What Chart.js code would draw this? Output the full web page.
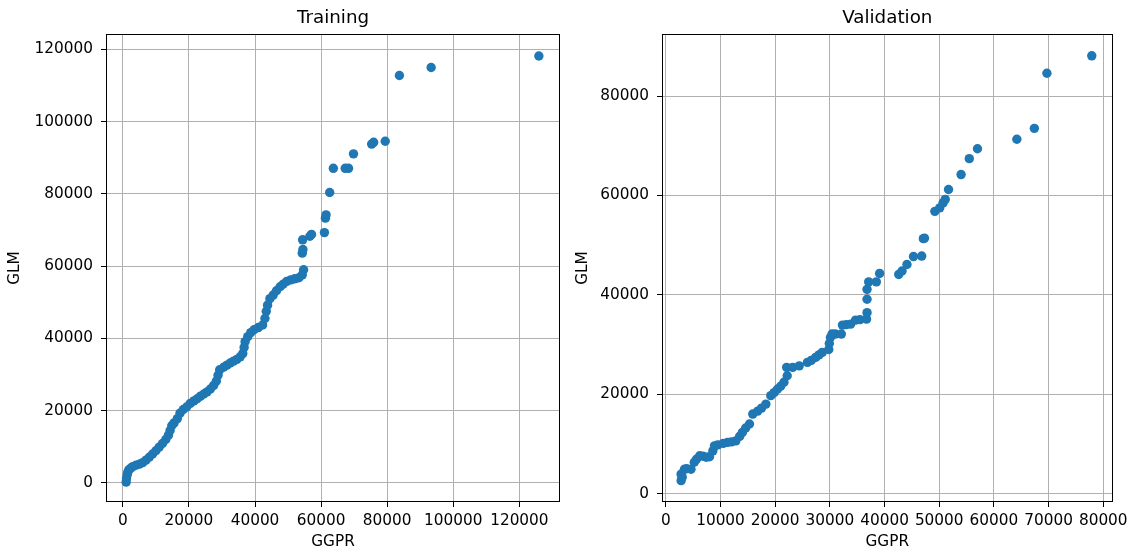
<!DOCTYPE html>
<html>
<head>
<meta charset="utf-8">
<script src="https://cdn.jsdelivr.net/npm/chart.js@4"></script>
<style>
    body { margin: 0; background: #fff; }
    .panel { position: absolute; top: 0; height: 552px; }
</style>
</head>
<body>
<div class="panel" style="left:0;width:566px"><canvas id="training"></canvas></div>
<div class="panel" style="left:566px;width:567px"><canvas id="validation"></canvas></div>
<script>
// Training quantiles
const trainGGPR = [
    1000, 1100, 1300, 1500, 1800, 2300, 3000, 4000, 5000, 6000,
    7000, 8000, 9000, 10000, 11000, 12000, 13000, 13800, 14300, 14800,
    15500, 16500, 17300, 18300, 19300, 20400, 21500, 22500, 23500, 24500,
    25500, 26500, 27500, 28300, 28800, 29300, 30500, 31500, 32500, 33500,
    34500, 35500, 36300, 36700, 37000, 37800, 38700, 39700, 41000, 42300,
    43000, 43400, 43800, 44500, 45500, 46500, 47600, 48500, 49600, 50800,
    52000, 53300, 54300, 54700, 54300, 54500, 54400, 56600, 57100, 61000,
    61300, 61500, 62600, 63700, 67300, 68300, 69800, 75300, 75900, 79400,
    83700, 93300, 125900
];
const trainGLM = [
    200, 1200, 2200, 3000, 3600, 4000, 4500, 4900, 5200, 5600,
    6300, 7100, 8000, 8900, 9900, 10900, 12000, 13200, 14500, 15800,
    16600, 17800, 19300, 20300, 21000, 22000, 22700, 23300, 24000, 24600,
    25200, 26000, 27000, 28200, 29800, 31300, 32000, 32600, 33200, 33700,
    34200, 34900, 35800, 37500, 39100, 40500, 41600, 42400, 43000, 43700,
    45500, 47500, 49200, 51000, 52000, 53200, 54300, 55000, 55800, 56200,
    56500, 56800, 57600, 59000, 63600, 64600, 67300, 68300, 68800, 69300,
    73300, 74200, 80400, 87100, 87100, 87100, 91100, 93800, 94300, 94600,
    112800, 115000, 118200
];

// Validation quantiles
const valGGPR = [
    2800, 2800, 3000, 3400, 3800, 4600, 5200, 5600, 6200, 6800,
    7400, 8000, 8600, 8900, 9500, 10500, 11300, 12000, 12800, 13500,
    14000, 14600, 15300, 15900, 16800, 17500, 18300, 19200, 19800, 20400,
    21000, 21600, 22200, 22100, 23200, 24400, 25900, 26600, 27400, 28000,
    28600, 29800, 29900, 30100, 30400, 31000, 32100, 32300, 33000, 33800,
    34700, 35500, 36700, 36800, 36800, 36800, 37100, 38500, 39100, 42600,
    43200, 44100, 45300, 46800, 47100, 47300, 49200, 50100, 50700, 51100,
    51700, 54000, 55500, 57000, 64200, 67400, 69700, 77900
];
const valGLM = [
    2600, 3900, 3300, 4900, 5000, 4900, 6300, 6900, 7600, 7500,
    7300, 7400, 8600, 9600, 9800, 10100, 10300, 10400, 10600, 11500,
    12300, 13200, 14000, 16000, 16600, 17200, 18000, 19700, 20300, 21000,
    21600, 22400, 23700, 25400, 25400, 25700, 26400, 26800, 27400, 27900,
    28400, 29000, 30200, 31400, 32100, 32100, 32100, 33900, 34000, 34100,
    34900, 35000, 35100, 36400, 39100, 41100, 42600, 42600, 44300, 44100,
    44800, 46100, 47700, 47800, 51300, 51400, 56800, 57500, 58500, 59200,
    61200, 64200, 67400, 69400, 71300, 73500, 84600, 88100
];

// Tick labels
const trainXTicks = [0, 20000, 40000, 60000, 80000, 100000, 120000];
const trainYTicks = [0, 20000, 40000, 60000, 80000, 100000, 120000];
const valXTicks = [0, 10000, 20000, 30000, 40000, 50000, 60000, 70000, 80000];
const valYTicks = [0, 20000, 40000, 60000, 80000];

const FONT = "'DejaVu Sans', sans-serif";
Chart.defaults.font.family = FONT;
Chart.defaults.color = '#000';

// full box around the plot, like matplotlib spines
const frame = {
    id: 'frame',
    afterDraw(chart) {
        const { ctx, chartArea: a } = chart;
        ctx.save();
        ctx.strokeStyle = '#000';
        ctx.lineWidth = 1;
        const l = Math.round(a.left) + 0.5, t = Math.round(a.top) + 0.5;
        const r = Math.round(a.right) - 0.5, b = Math.round(a.bottom) - 0.5;
        ctx.strokeRect(l, t, r - l, b - t);
        ctx.restore();
    }
};

const axisFont = { family: FONT, size: 15.3, lineHeight: 1.2 };

const makeChart = (id, cfg) => {
    const points = cfg.xs.map((x, i) => ({ x, y: cfg.ys[i] }));
    return new Chart(document.getElementById(id), {
        type: 'scatter',
        data: {
            datasets: [{
                data: points,
                backgroundColor: '#1f77b4',
                borderWidth: 0,
                pointRadius: 4.7,
                pointHoverRadius: 4.7
            }]
        },
        options: {
            responsive: true,
            maintainAspectRatio: false,
            animation: false,
            layout: { padding: { left: 0, right: cfg.padRight, top: 0, bottom: 0 } },
            plugins: {
                legend: { display: false },
                tooltip: { enabled: false },
                title: {
                    display: true,
                    text: cfg.title,
                    fullSize: false,
                    color: '#000',
                    font: { family: FONT, size: 18.3, weight: 'normal', lineHeight: 1.2 },
                    padding: { top: 7, bottom: 5 }
                }
            },
            scales: {
                x: {
                    type: 'linear',
                    min: cfg.xMin,
                    max: cfg.xMax,
                    z: 1,
                    afterBuildTicks: s => { s.ticks = cfg.xTicks.map(v => ({ value: v })); },
                    afterFit: s => { s.height = 50; },
                    border: { display: false },
                    grid: { color: '#b0b0b0', lineWidth: 1, tickColor: '#000', tickLength: 5 },
                    ticks: {
                        font: axisFont, color: '#000', padding: 5,
                        autoSkip: false, maxRotation: 0,
                        callback: v => String(v)
                    },
                    title: {
                        display: true, text: 'GGPR', color: '#000',
                        font: axisFont, padding: { top: 0, bottom: 0.3 }
                    }
                },
                y: {
                    type: 'linear',
                    min: cfg.yMin,
                    max: cfg.yMax,
                    z: 1,
                    afterBuildTicks: s => { s.ticks = cfg.yTicks.map(v => ({ value: v })); },
                    afterFit: s => { s.width = cfg.yWidth; },
                    border: { display: false },
                    grid: { color: '#b0b0b0', lineWidth: 1, tickColor: '#000', tickLength: 5 },
                    ticks: {
                        font: axisFont, color: '#000', padding: 8,
                        autoSkip: false,
                        callback: v => String(v)
                    },
                    title: {
                        display: true, text: 'GLM', color: '#000',
                        font: axisFont, padding: { top: cfg.glmPad, bottom: 0 }
                    }
                }
            }
        },
        plugins: [frame]
    });
};

makeChart('training', {
    title: 'Training',
    xs: trainGGPR, ys: trainGLM,
    xTicks: trainXTicks, yTicks: trainYTicks,
    xMin: -5100, xMax: 132300, yMin: -5300, yMax: 124300,
    yWidth: 106, padRight: 6, glmPad: 6.3
});

makeChart('validation', {
    title: 'Validation',
    xs: valGGPR, ys: valGLM,
    xTicks: valXTicks, yTicks: valYTicks,
    xMin: -700, xMax: 81700, yMin: -1700, yMax: 92500,
    yWidth: 96, padRight: 20, glmPad: 8
});
</script>
</body>
</html>
